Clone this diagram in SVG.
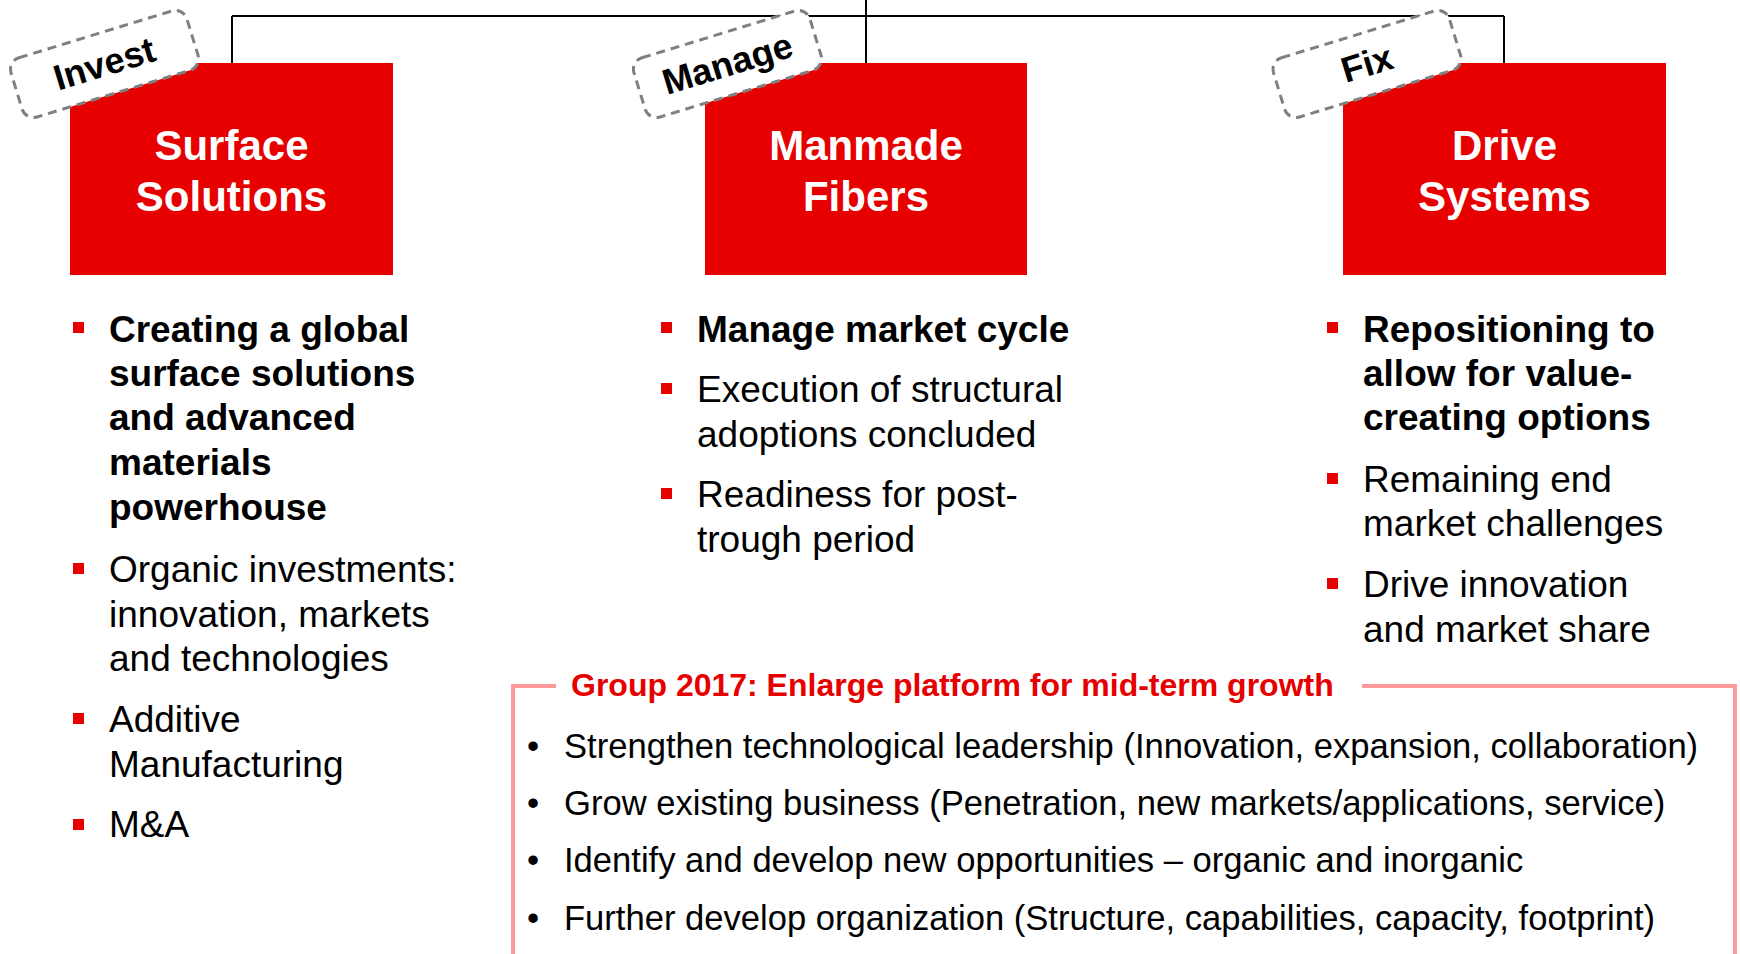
<svg xmlns="http://www.w3.org/2000/svg" width="1740" height="954" viewBox="0 0 1740 954">
<style>
.box{fill:#E60000}
.title{font-family:"Liberation Sans",Arial,sans-serif;font-weight:bold;font-size:42px;fill:#fff;text-anchor:middle}
.tag rect{fill:#fff;stroke:#808080;stroke-width:3;stroke-dasharray:9 6}
.tag text{font-family:"Liberation Sans",Arial,sans-serif;font-weight:bold;font-size:36px;fill:#000;text-anchor:middle}
.b{font-family:"Liberation Sans",Arial,sans-serif;font-weight:bold;font-size:37px;fill:#000}
.r{font-family:"Liberation Sans",Arial,sans-serif;font-size:37px;fill:#000}
.sq{fill:#E60000}
.conn{stroke:#000;stroke-width:2;fill:none}
.grp{stroke:#FF9A9A;stroke-width:4;fill:none}
.gt{font-family:"Liberation Sans",Arial,sans-serif;font-weight:bold;font-size:32px;fill:#E60000}
.gi{font-family:"Liberation Sans",Arial,sans-serif;font-size:34.6px;fill:#000}
</style>
<rect width="1740" height="954" fill="#fff"/>
<g id="connectors">
<path class="conn" d="M232,16 H1504 M232,16 V63 M866,0 V63 M1504,16 V63"/>
</g>
<g id="surface">
<rect class="box" x="70" y="63" width="323" height="212"/>
<text class="title" x="231.5" y="160">Surface</text>
<text class="title" x="231.5" y="211">Solutions</text>
</g>
<g id="manmade">
<rect class="box" x="705" y="63" width="322" height="212"/>
<text class="title" x="866" y="160">Manmade</text>
<text class="title" x="866" y="211">Fibers</text>
</g>
<g id="drive">
<rect class="box" x="1343" y="63" width="323" height="212"/>
<text class="title" x="1504.5" y="160">Drive</text>
<text class="title" x="1504.5" y="211">Systems</text>
</g>
<g id="tag-invest" class="tag" transform="translate(104.5,64) rotate(-17)">
<rect x="-92" y="-31" width="184" height="62" rx="12"/>
<text x="0" y="12">Invest</text>
</g>
<g id="tag-manage" class="tag" transform="translate(727.5,64) rotate(-17)">
<rect x="-92" y="-31" width="184" height="62" rx="12"/>
<text x="0" y="12">Manage</text>
</g>
<g id="tag-fix" class="tag" transform="translate(1367,64) rotate(-17)">
<rect x="-92" y="-31" width="184" height="62" rx="12"/>
<text x="0" y="12">Fix</text>
</g>
<g id="list-surface">
<rect class="sq" x="73" y="322" width="11" height="11"/>
<text class="b" x="109" y="342">Creating a global</text>
<text class="b" x="109" y="386">surface solutions</text>
<text class="b" x="109" y="430">and advanced</text>
<text class="b" x="109" y="475">materials</text>
<text class="b" x="109" y="520">powerhouse</text>
<rect class="sq" x="73" y="563" width="11" height="11"/>
<text class="r" x="109" y="582">Organic investments:</text>
<text class="r" x="109" y="627">innovation, markets</text>
<text class="r" x="109" y="671">and technologies</text>
<rect class="sq" x="73" y="713" width="11" height="11"/>
<text class="r" x="109" y="732">Additive</text>
<text class="r" x="109" y="777">Manufacturing</text>
<rect class="sq" x="73" y="819" width="11" height="11"/>
<text class="r" x="109" y="837">M&amp;A</text>
</g>
<g id="list-manmade">
<rect class="sq" x="661" y="322" width="11" height="11"/>
<text class="b" x="697" y="342">Manage market cycle</text>
<rect class="sq" x="661" y="383" width="11" height="11"/>
<text class="r" x="697" y="402">Execution of structural</text>
<text class="r" x="697" y="447">adoptions concluded</text>
<rect class="sq" x="661" y="488" width="11" height="11"/>
<text class="r" x="697" y="507">Readiness for post-</text>
<text class="r" x="697" y="552">trough period</text>
</g>
<g id="list-drive">
<rect class="sq" x="1327" y="322" width="11" height="11"/>
<text class="b" x="1363" y="342">Repositioning to</text>
<text class="b" x="1363" y="386">allow for value-</text>
<text class="b" x="1363" y="430">creating options</text>
<rect class="sq" x="1327" y="473" width="11" height="11"/>
<text class="r" x="1363" y="492">Remaining end</text>
<text class="r" x="1363" y="536">market challenges</text>
<rect class="sq" x="1327" y="578" width="11" height="11"/>
<text class="r" x="1363" y="597">Drive innovation</text>
<text class="r" x="1363" y="642">and market share</text>
</g>
<g id="group-2017">
<path class="grp" d="M556,686 H513 V960 M1362,686 H1735 V960"/>
<text class="gt" x="571" y="696">Group 2017: Enlarge platform for mid-term growth</text>
<text class="gi" x="527" y="758">•</text>
<text class="gi" x="564" y="758">Strengthen technological leadership (Innovation, expansion, collaboration)</text>
<text class="gi" x="527" y="815">•</text>
<text class="gi" x="564" y="815">Grow existing business (Penetration, new markets/applications, service)</text>
<text class="gi" x="527" y="872">•</text>
<text class="gi" x="564" y="872">Identify and develop new opportunities – organic and inorganic</text>
<text class="gi" x="527" y="930">•</text>
<text class="gi" x="564" y="930">Further develop organization (Structure, capabilities, capacity, footprint)</text>
</g>
</svg>
